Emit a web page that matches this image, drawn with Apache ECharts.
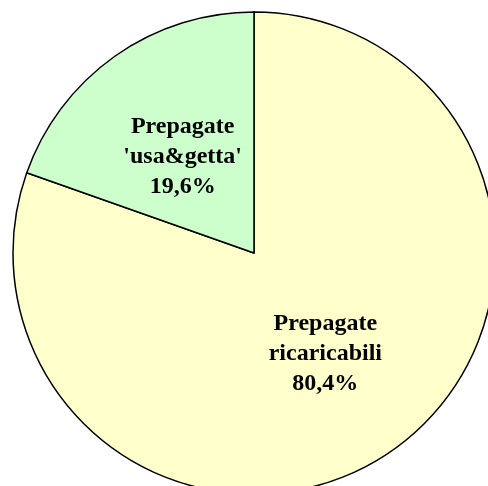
<!DOCTYPE html>
<html>
<head>
<meta charset="utf-8">
<script src="https://cdn.jsdelivr.net/npm/echarts@6/dist/echarts.min.js"></script>
<style>html,body{margin:0;padding:0;background:#fff;}#c{width:488px;height:486px;}</style>
</head>
<body>
<div id="c"></div>
<script>
const categories = ["Prepagate\nricaricabili", "Prepagate\n'usa&getta'"];
const values = [80.4, 19.6];
const colors = ["#FFFFCC", "#CCFFCC"];
const labelOffsets = [[0, 0], [0, 5]];

const chart = echarts.init(document.getElementById('c'), null, {renderer: 'canvas'});
chart.setOption({
  animation: false,
  series: [{
    type: 'pie',
    center: [254, 253],
    radius: 241,
    startAngle: 90,
    clockwise: true,
    silent: true,
    data: categories.map((n, i) => ({
      name: n, value: values[i],
      itemStyle: {color: colors[i]},
      label: {offset: labelOffsets[i]}
    })),
    itemStyle: {borderColor: '#000', borderWidth: 1.5},
    label: {
      position: 'inside',
      formatter: p => p.name + '\n' + p.value.toFixed(1).replace('.', ',') + '%',
      fontFamily: 'Liberation Serif',
      fontWeight: 'bold',
      fontSize: 24,
      lineHeight: 30,
      color: '#000',
      align: 'center'
    },
    labelLine: {show: false},
    emphasis: {disabled: true}
  }]
});
</script>
</body>
</html>
